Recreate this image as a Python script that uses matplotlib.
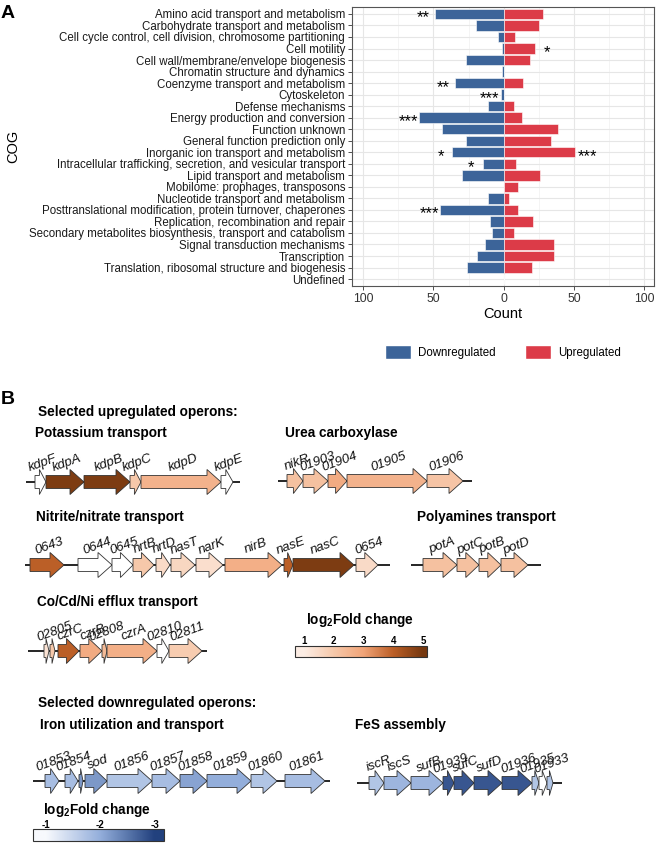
import numpy as np
import matplotlib
matplotlib.use('Agg')
import matplotlib.pyplot as plt
from matplotlib.patches import Polygon, Patch
from matplotlib.colors import LinearSegmentedColormap, Normalize

plt.rcParams['font.family'] = ['Liberation Sans', 'DejaVu Sans']
plt.rcParams['mathtext.fontset'] = 'custom'
plt.rcParams['mathtext.rm'] = 'Liberation Sans'
plt.rcParams['mathtext.bf'] = 'Liberation Sans:bold'
plt.rcParams['mathtext.it'] = 'Liberation Sans:italic'

"""panel A data: COG counts"""
cog = ['Amino acid transport and metabolism',
       'Carbohydrate transport and metabolism',
       'Cell cycle control, cell division, chromosome partitioning',
       'Cell motility',
       'Cell wall/membrane/envelope biogenesis',
       'Chromatin structure and dynamics',
       'Coenzyme transport and metabolism',
       'Cytoskeleton',
       'Defense mechanisms',
       'Energy production and conversion',
       'Function unknown',
       'General function prediction only',
       'Inorganic ion transport and metabolism',
       'Intracellular trafficking, secretion, and vesicular transport',
       'Lipid transport and metabolism',
       'Mobilome: prophages, transposons',
       'Nucleotide transport and metabolism',
       'Posttranslational modification, protein turnover, chaperones',
       'Replication, recombination and repair',
       'Secondary metabolites biosynthesis, transport and catabolism',
       'Signal transduction mechanisms',
       'Transcription',
       'Translation, ribosomal structure and biogenesis',
       'Undefined']
down_count = [49, 20, 4, 1, 27, 1, 35, 2, 11, 60, 44, 27, 37, 15, 30, 0, 11, 45, 10, 8, 13, 19, 26, 0]
up_count = [28, 25, 8, 22, 19, 0, 14, 0, 7, 13, 39, 34, 51, 9, 26, 10, 4, 10, 21, 7, 36, 36, 20, 0]
down_stars = ['**', '', '', '', '', '', '**', '***', '', '***', '', '', '*', '*', '', '', '', '***', '', '', '', '', '', '']
up_stars = ['', '', '', '*', '', '', '', '', '', '', '', '', '***', '', '', '', '', '', '', '', '', '', '', '']

"""panel B data: operons (gene start/end in relative units, log2FC; nan = not significant)"""
kdp_names = ['kdpF', 'kdpA', 'kdpB', 'kdpC', 'kdpD', 'kdpE']
kdp_start = [0, 11, 49, 95, 106, 186]
kdp_end = [11, 49, 95, 106, 186, 198]
kdp_lfc = [np.nan, 4.9, 4.9, 2.0, 2.6, np.nan]

urea_names = ['nikR', '01903', '01904', '01905', '01906']
urea_start = [0, 16, 41, 60, 140]
urea_end = [16, 41, 60, 140, 176]
urea_lfc = [2.2, 2.2, 2.8, 2.6, 2.1]

nit_names = ['0643', '0644', '0645', 'nrtB', 'nrtD', 'nasT', 'narK', 'nirB', 'nasE', 'nasC', '0654']
nit_start = [0, 48, 82, 103, 126, 141, 166, 195, 254, 263, 326]
nit_end = [34, 82, 103, 124, 140, 165, 193, 252, 263, 324, 348]
nit_lfc = [4.0, np.nan, np.nan, 2.0, 1.5, 1.6, 1.4, 2.7, 4.0, 4.9, 1.5]

pot_names = ['potA', 'potC', 'potB', 'potD']
pot_start = [0, 34, 56, 78]
pot_end = [34, 56, 78, 105]
pot_lfc = [2.2, 2.2, 2.2, 2.2]

czr_names = ['', '02805', 'czrC', 'czrB', '02808', 'czrA', '02810', '02811']
czr_start = [0, 6, 14, 36, 58, 63, 113, 125]
czr_end = [5, 11, 35, 58, 63, 113, 125, 158]
czr_lfc = [1.3, 2.0, 4.0, 2.8, 2.4, 2.7, np.nan, 1.9]

iron_names = ['01853', '01854', '', 'sod', '01856', '01857', '01858', '01859', '01860', '01861']
iron_start = [0, 20, 34, 40, 62, 107, 135, 162, 206, 240]
iron_end = [14, 33, 38, 62, 107, 135, 162, 206, 232, 280]
iron_lfc = [-1.8, -1.8, -2.2, -2.2, -1.7, -1.8, -2.1, -2.0, -1.7, -1.8]

fes_names = ['iscR', 'iscS', 'sufB', '01939', 'sufC', 'sufD', '01936', '01935', '', '01933']
fes_start = [0, 15, 42, 74, 85, 105, 133, 163, 170, 178]
fes_end = [15, 42, 74, 85, 105, 133, 163, 170, 178, 184]
fes_lfc = [-1.7, -1.9, -1.9, -2.8, -2.8, -2.8, -2.8, -1.7, np.nan, -1.7]

blue = '#3C6499'
red = '#DC3B48'
up_cmap = LinearSegmentedColormap.from_list('up', [(0, '#FCEDE4'), (0.25, '#F6C8AA'), (0.5, '#F1A478'),
                                                   (0.75, '#BC5F27'), (1, '#763810')])
up_norm = Normalize(1, 5, clip=True)
down_cmap = LinearSegmentedColormap.from_list('down', ['#22417E', '#93AEDB', '#F7F9FD'])
down_norm = Normalize(-3, -1, clip=True)

W, H = 660, 851
fig = plt.figure(figsize=(6.6, 8.51), dpi=100)

"""panel A"""
ax = fig.add_axes([352 / W, 1 - 286 / H, 302 / W, 279 / H])
y = np.arange(len(cog))
ax.barh(y, -np.array(down_count), height=0.9, color=blue, edgecolor='white', linewidth=0.4)
ax.barh(y, up_count, height=0.9, color=red, edgecolor='white', linewidth=0.4)
for i in range(len(cog)):
    if down_stars[i]:
        ax.text(-down_count[i] - 8, i + 0.75, down_stars[i], ha='center', va='baseline', fontsize=12)
    if up_stars[i]:
        ax.text(up_count[i] + 8.5, i + 0.75, up_stars[i], ha='center', va='baseline', fontsize=12)
ax.set_ylim(len(cog) - 0.4, -0.6)
ax.set_xlim(-108, 107)
ax.set_yticks(y)
ax.set_yticklabels(cog, fontsize=8.3, color='#1A1A1A')
ax.set_xticks([-100, -50, 0, 50, 100])
ax.set_xticklabels(['100', '50', '0', '50', '100'], fontsize=8.8, color='#333333')
ax.set_xticks([-75, -25, 25, 75], minor=True)
ax.tick_params(which='major', length=3, width=0.6, color='#333333', pad=2)
ax.tick_params(which='minor', length=0)
ax.grid(which='major', color='#E6E6E6', linewidth=0.8)
ax.grid(which='minor', axis='x', color='#F0F0F0', linewidth=0.5)
ax.set_axisbelow(True)
for s in ax.spines.values():
    s.set_color('#555555')
    s.set_linewidth(0.8)
ax.set_xlabel('Count', fontsize=10.5)
ax.xaxis.set_label_coords(0.5, -0.075)
ax.set_ylabel('COG', fontsize=10.5)
ax.yaxis.set_label_coords(-1.10, 0.5)
ax.legend(handles=[Patch(facecolor=blue, edgecolor='white'), Patch(facecolor=red, edgecolor='white')],
          labels=['Downregulated', 'Upregulated'], loc='center', ncol=2, frameon=False,
          bbox_to_anchor=(503 / W, 1 - 352 / H), bbox_transform=fig.transFigure,
          fontsize=8.3, handlelength=2.2, handleheight=1.6, columnspacing=2.6, handletextpad=0.6)

"""panel B, drawn in pixel units"""
axb = fig.add_axes([0, 0, 1, 1])
axb.set_xlim(0, W)
axb.set_ylim(H, 0)
axb.axis('off')
axb.patch.set_alpha(0)


def gene_color(v):
    if np.isnan(v):
        return 'white'
    if v > 0:
        return up_cmap(up_norm(v))
    return down_cmap(down_norm(v))


def draw_operon(x0, y0, names, starts, ends, lfc, lead, tail):
    axb.plot([x0 + starts[0] - lead, x0 + ends[-1] + tail], [y0, y0], color='black', lw=1.2, zorder=1,
             solid_capstyle='butt')
    bh, hh = 6.5, 12.5
    for n, s, e, v in zip(names, starts, ends, lfc):
        a, b = x0 + s, x0 + e
        h = min(14, (b - a) * 0.6)
        pts = [(a, y0 - bh), (b - h, y0 - bh), (b - h, y0 - hh), (b, y0), (b - h, y0 + hh),
               (b - h, y0 + bh), (a, y0 + bh)]
        axb.add_patch(Polygon(pts, closed=True, facecolor=gene_color(v), edgecolor='#333333', lw=0.6, zorder=2))
        if n:
            axb.text((a + b) / 2 + 3, y0 - 16, n, style='italic', fontsize=9.5, rotation=20,
                     rotation_mode='anchor', ha='center', va='baseline', color='#111111')


def draw_cbar(x0, x1, ytop, ybot, vmin, vmax, cmap, norm, ticks):
    grad = np.linspace(vmin, vmax, 256)[None, :]
    axb.imshow(norm(grad), cmap=cmap, vmin=0, vmax=1, extent=(x0, x1, ybot, ytop), aspect='auto', zorder=1)
    axb.add_patch(plt.Rectangle((x0, ytop), x1 - x0, ybot - ytop, fill=False, edgecolor='#333333', lw=0.8, zorder=2))
    for t in ticks:
        tx = x0 + (t - vmin) / (vmax - vmin) * (x1 - x0)
        axb.text(tx, ytop - 1.5, str(t), fontsize=7, fontweight='bold', ha='center', va='baseline')


title_kw = dict(fontsize=9.8, fontweight='bold', ha='left', va='center')
fc_label = r'$\mathbf{log_2}$' + 'Fold change'

axb.text(1, 14, 'A', fontsize=14, fontweight='bold', ha='left', va='center')
axb.text(1, 400, 'B', fontsize=14, fontweight='bold', ha='left', va='center')
axb.text(38, 412, 'Selected upregulated operons:', **title_kw)
axb.text(35, 433, 'Potassium transport', **title_kw)
axb.text(285, 433, 'Urea carboxylase', **title_kw)
axb.text(36, 517, 'Nitrite/nitrate transport', **title_kw)
axb.text(417, 517, 'Polyamines transport', **title_kw)
axb.text(37, 602, 'Co/Cd/Ni efflux transport', **title_kw)
axb.text(306, 620, fc_label, **title_kw)
axb.text(38, 703, 'Selected downregulated operons:', **title_kw)
axb.text(40, 725, 'Iron utilization and transport', **title_kw)
axb.text(355, 725, 'FeS assembly', **title_kw)
axb.text(43, 810, fc_label, **title_kw)

draw_operon(35, 482, kdp_names, kdp_start, kdp_end, kdp_lfc, 9, 7)
draw_operon(287, 481, urea_names, urea_start, urea_end, urea_lfc, 9, 9)
draw_operon(30, 565, nit_names, nit_start, nit_end, nit_lfc, 5, 12)
draw_operon(423, 565, pot_names, pot_start, pot_end, pot_lfc, 12, 13)
draw_operon(44, 651, czr_names, czr_start, czr_end, czr_lfc, 16, 5)
draw_operon(45, 781, iron_names, iron_start, iron_end, iron_lfc, 12, 5)
draw_operon(369, 783, fes_names, fes_start, fes_end, fes_lfc, 12, 9)

draw_cbar(295, 427, 646, 657, 0.70, 5.13, up_cmap, up_norm, [1, 2, 3, 4, 5])
draw_cbar(33, 164, 829, 841, -0.76, -3.17, down_cmap, down_norm, [-1, -2, -3])
axb.set_xlim(0, W)
axb.set_ylim(H, 0)

fig.savefig('out.png', dpi=100)
